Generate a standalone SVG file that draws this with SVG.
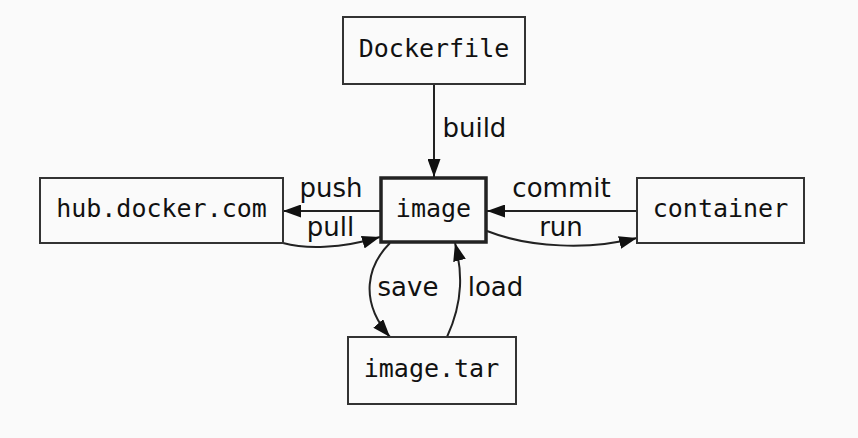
<svg xmlns="http://www.w3.org/2000/svg" width="858" height="438" viewBox="0 0 858 438">
<style>
.box{fill:#fafafa;stroke:#333;stroke-width:2}
.main{stroke-width:3.5;stroke:#222}
.nt{font-family:"DejaVu Sans Mono","Liberation Mono",monospace;font-size:25px;fill:#111;text-anchor:middle}
.lt{font-family:"DejaVu Sans","Liberation Sans",sans-serif;font-size:26px;fill:#111;text-anchor:middle}
.edge{fill:none;stroke:#222;stroke-width:2}
</style>
<defs>
<marker id="ah" markerUnits="userSpaceOnUse" viewBox="0 0 18 13" refX="18" refY="6.5" markerWidth="18" markerHeight="13" orient="auto">
<path d="M0,0 L18,6.5 L0,13 Z" fill="#111"/>
</marker>
</defs>
<rect width="858" height="438" fill="#fafafa"/>
<g id="connectors">
<path class="edge" d="M434,84 L434,177" marker-end="url(#ah)"/>
<path class="edge" d="M380,211 L283,211" marker-end="url(#ah)"/>
<path class="edge" d="M637,211 L487,211" marker-end="url(#ah)"/>
<path class="edge" d="M283,243 C305,249 340,249 380,237" marker-end="url(#ah)"/>
<path class="edge" d="M487,231 C530,248 590,250 637,238" marker-end="url(#ah)"/>
<path class="edge" d="M390,243 C368,265 358,300 390,337" marker-end="url(#ah)"/>
<path class="edge" d="M447,337 C464,300 462,270 455,243" marker-end="url(#ah)"/>
<text class="lt" x="474.4" y="137">build</text>
<text class="lt" x="331" y="197">push</text>
<text class="lt" x="330.5" y="236">pull</text>
<text class="lt" x="561.5" y="197">commit</text>
<text class="lt" x="561" y="236">run</text>
<text class="lt" x="408" y="296">save</text>
<text class="lt" x="495.5" y="296">load</text>
</g>
<g id="dockerfile">
<rect class="box" x="343" y="17" width="182" height="67"/>
<text class="nt" x="434" y="57">Dockerfile</text>
</g>
<g id="image">
<rect class="box main" x="381" y="178" width="105" height="64"/>
<text class="nt" x="433.5" y="217">image</text>
</g>
<g id="hub">
<rect class="box" x="40" y="178" width="243" height="65"/>
<text class="nt" x="161.5" y="217">hub.docker.com</text>
</g>
<g id="container">
<rect class="box" x="637" y="178" width="167" height="65"/>
<text class="nt" x="720.5" y="217">container</text>
</g>
<g id="imagetar">
<rect class="box" x="348" y="337" width="168" height="67"/>
<text class="nt" x="431.5" y="377">image.tar</text>
</g>
</svg>
